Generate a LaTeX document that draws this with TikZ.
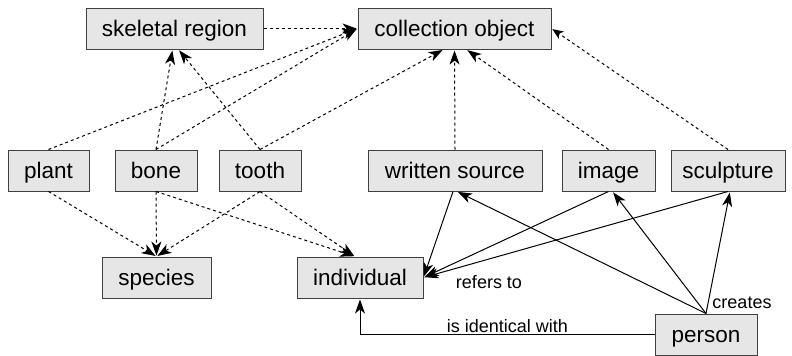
\documentclass[tikz,border=0pt]{standalone}
\usepackage{fontspec}
\setmainfont{Liberation Sans}
\usetikzlibrary{arrows.meta}

\begin{document}
\begin{tikzpicture}[x=0.5pt,y=-0.5pt,
    box/.style={draw=black!75, fill={rgb,255:red,230;green,230;blue,230}, line width=0.5pt,
      inner sep=0pt, minimum height=20.5pt, text height=10.5pt, text depth=2.5pt,
      font=\fontsize{11.25}{13}\selectfont},
    link/.style={line width=0.5pt, shorten >=0.5pt, -{Stealth[length=7pt,width=5pt,inset=2pt]}},
    dlink/.style={link, dash pattern=on 1.5pt off 1.5pt},
    lbl/.style={inner sep=0pt, anchor=base, font=\fontsize{9}{11}\selectfont}]
  \useasboundingbox (0,0) rectangle (792,355);

  % top row
  \node[box, minimum width=88.5pt] (skel) at (174.5,28.5) {skeletal region};
  \node[box, minimum width=96.5pt] (coll) at (454.5,28.5) {collection object};

  % middle row
  \node[box, minimum width=40.5pt] (plant) at (48.5,170.5) {plant};
  \node[box, minimum width=41pt] (bone) at (156,170.5) {bone};
  \node[box, minimum width=41pt] (tooth) at (260,170.5) {tooth};
  \node[box, minimum width=87pt] (source) at (455,170.5) {written source};
  \node[box, minimum width=46.5pt] (image) at (608.5,170.5) {image};
  \node[box, minimum width=57pt] (sculpture) at (728,170.5) {sculpture};

  % bottom row
  \node[box, minimum width=54.5pt] (species) at (156.5,277.5) {species};
  \node[box, minimum width=63pt] (individual) at (360,277.5) {individual};
  \node[box, minimum width=51pt] (person) at (706,334.5) {person};

  % Text Node
  \node[lbl] (refers) at (489,288) {refers to};
  % Text Node
  \node[lbl] (creates) at (742,308) {creates};
  % Text Node
  \node[lbl] (ident) at (507.5,332) {is identical with};

  % is-a links (dashed)
  \draw[dlink] (skel.east) -- (coll.west);
  \draw[dlink] (plant.north) -- (coll.west);
  \draw[dlink] (bone.north) -- (coll.west);
  \draw[dlink] (bone.north) -- ([xshift=-1pt]skel.south);
  \draw[dlink] (tooth.north) -- ([xshift=2pt]skel.south);
  \draw[dlink] (tooth.north) -- ([xshift=-5.5pt]coll.south);
  \draw[dlink] (source.north) -- (coll.south);
  \draw[dlink] (image.north) -- ([xshift=6pt]coll.south);
  \draw[dlink, -{Stealth[length=5.5pt,width=4.5pt,inset=1.5pt]}] (sculpture.north) -- (coll.east);

  \draw[dlink] (plant.south) -- (species.north);
  \draw[dlink] (bone.south) -- (species.north);
  \draw[dlink] (tooth.south) -- (species.north);
  \draw[dlink] (bone.south) -- ([xshift=-2.5pt]individual.north);
  \draw[dlink] (tooth.south) -- ([xshift=-2.5pt]individual.north);

  % refers to
  \draw[link] ([xshift=-1pt]source.south) -- (individual.east);
  \draw[link] (image.south) -- (individual.east);
  \draw[link] (sculpture.south) -- (individual.east);

  % creates
  \draw[link] (person.north) -- ([xshift=1pt]source.south);
  \draw[link] (person.north) -- ([xshift=2pt]image.south);
  \draw[link] (person.north) -- ([xshift=1pt]sculpture.south);

  % is identical with
  \draw[link] (person.west) -| (individual.south);
\end{tikzpicture}
\end{document}
